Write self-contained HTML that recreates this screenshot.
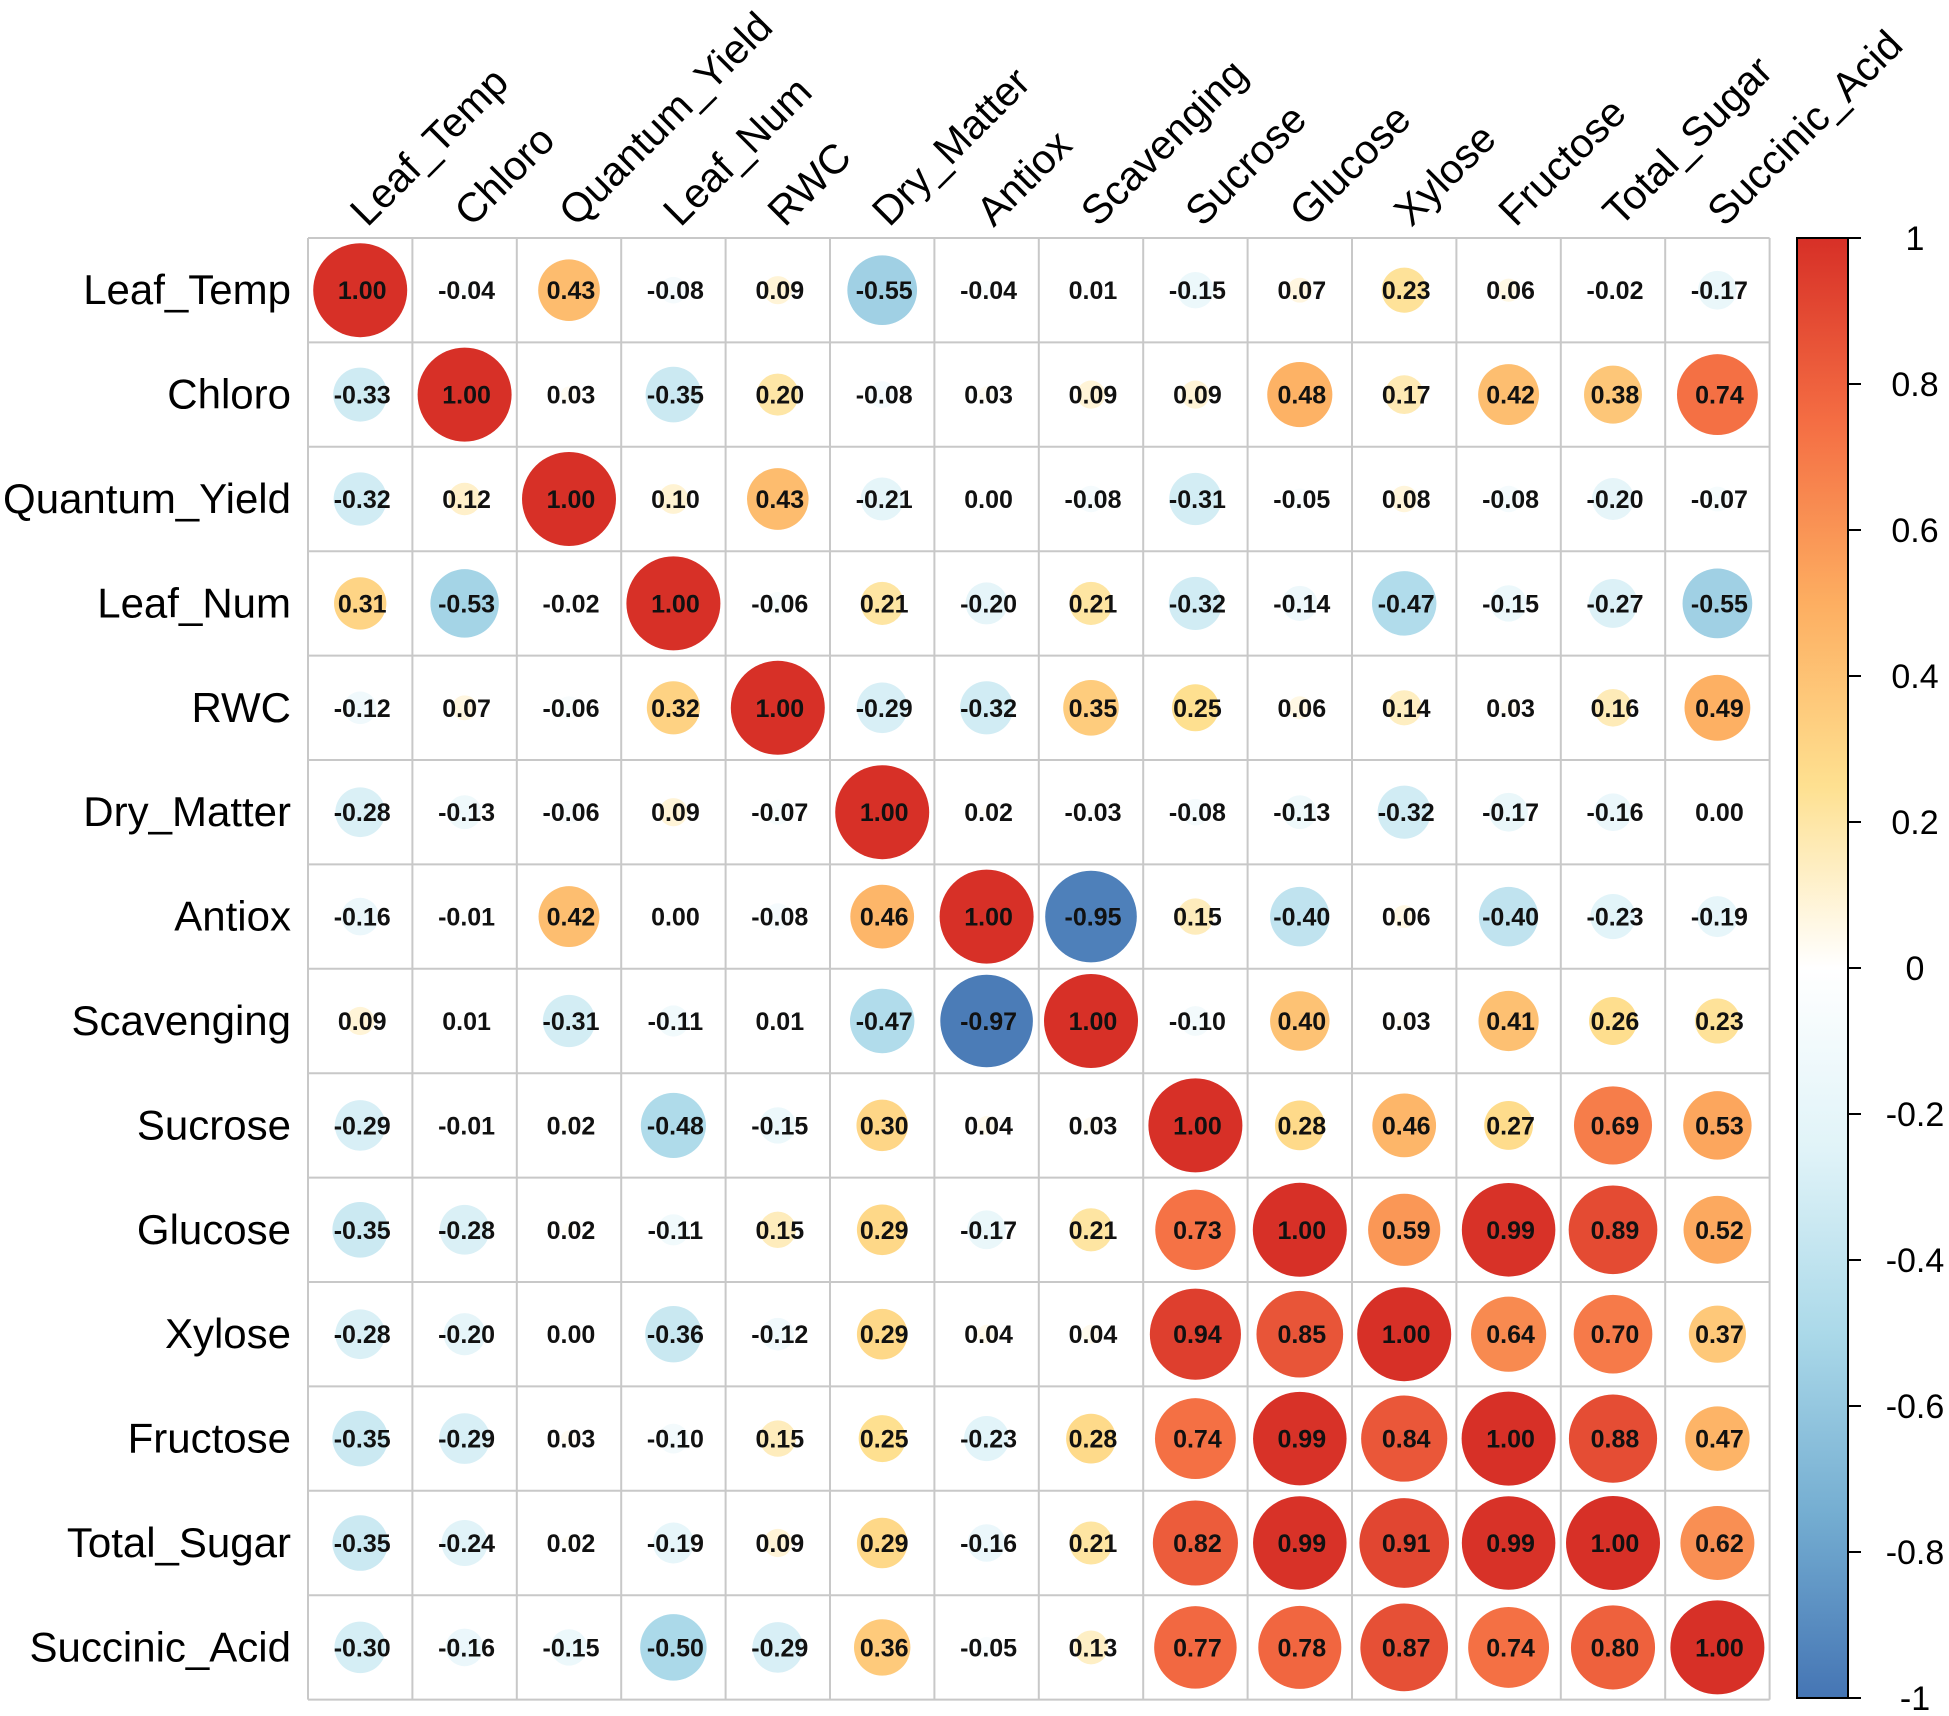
<!DOCTYPE html>
<html><head><meta charset="utf-8"><style>
html,body{margin:0;padding:0;background:#fff}
svg{display:block}
text{font-family:"Liberation Sans",Arial,sans-serif}
.v{font-size:25px;font-weight:bold;fill:#111;text-anchor:middle}
.rl{font-size:42px;text-anchor:end;fill:#000}
.cl{font-size:41px;fill:#000}
.cb{font-size:34px;text-anchor:middle;fill:#000}
</style></head><body>
<svg id="s" width="1949" height="1716" viewBox="0 0 1949 1716" xmlns="http://www.w3.org/2000/svg">
<defs><linearGradient id="g" x1="0" y1="0" x2="0" y2="1">
<stop offset="0" stop-color="#D73027"/><stop offset="0.125" stop-color="#F46D43"/><stop offset="0.25" stop-color="#FDAE61"/><stop offset="0.375" stop-color="#FEE090"/><stop offset="0.5" stop-color="#FFFFFF"/><stop offset="0.625" stop-color="#E0F3F8"/><stop offset="0.75" stop-color="#ABD9E9"/><stop offset="0.875" stop-color="#74ADD1"/><stop offset="1" stop-color="#4575B4"/></linearGradient></defs>
<g id="grid"></g>
<g id="circ"></g>
<g id="rl">
<text class="rl">Leaf_Temp</text><text class="rl">Chloro</text><text class="rl">Quantum_Yield</text><text class="rl">Leaf_Num</text><text class="rl">RWC</text><text class="rl">Dry_Matter</text><text class="rl">Antiox</text><text class="rl">Scavenging</text><text class="rl">Sucrose</text><text class="rl">Glucose</text><text class="rl">Xylose</text><text class="rl">Fructose</text><text class="rl">Total_Sugar</text><text class="rl">Succinic_Acid</text>
</g>
<g id="cl">
<text class="cl">Leaf_Temp</text><text class="cl">Chloro</text><text class="cl">Quantum_Yield</text><text class="cl">Leaf_Num</text><text class="cl">RWC</text><text class="cl">Dry_Matter</text><text class="cl">Antiox</text><text class="cl">Scavenging</text><text class="cl">Sucrose</text><text class="cl">Glucose</text><text class="cl">Xylose</text><text class="cl">Fructose</text><text class="cl">Total_Sugar</text><text class="cl">Succinic_Acid</text>
</g>
<g id="vals">
<g><text class="v">1.00</text><text class="v">-0.04</text><text class="v">0.43</text><text class="v">-0.08</text><text class="v">0.09</text><text class="v">-0.55</text><text class="v">-0.04</text><text class="v">0.01</text><text class="v">-0.15</text><text class="v">0.07</text><text class="v">0.23</text><text class="v">0.06</text><text class="v">-0.02</text><text class="v">-0.17</text></g>
<g><text class="v">-0.33</text><text class="v">1.00</text><text class="v">0.03</text><text class="v">-0.35</text><text class="v">0.20</text><text class="v">-0.08</text><text class="v">0.03</text><text class="v">0.09</text><text class="v">0.09</text><text class="v">0.48</text><text class="v">0.17</text><text class="v">0.42</text><text class="v">0.38</text><text class="v">0.74</text></g>
<g><text class="v">-0.32</text><text class="v">0.12</text><text class="v">1.00</text><text class="v">0.10</text><text class="v">0.43</text><text class="v">-0.21</text><text class="v">0.00</text><text class="v">-0.08</text><text class="v">-0.31</text><text class="v">-0.05</text><text class="v">0.08</text><text class="v">-0.08</text><text class="v">-0.20</text><text class="v">-0.07</text></g>
<g><text class="v">0.31</text><text class="v">-0.53</text><text class="v">-0.02</text><text class="v">1.00</text><text class="v">-0.06</text><text class="v">0.21</text><text class="v">-0.20</text><text class="v">0.21</text><text class="v">-0.32</text><text class="v">-0.14</text><text class="v">-0.47</text><text class="v">-0.15</text><text class="v">-0.27</text><text class="v">-0.55</text></g>
<g><text class="v">-0.12</text><text class="v">0.07</text><text class="v">-0.06</text><text class="v">0.32</text><text class="v">1.00</text><text class="v">-0.29</text><text class="v">-0.32</text><text class="v">0.35</text><text class="v">0.25</text><text class="v">0.06</text><text class="v">0.14</text><text class="v">0.03</text><text class="v">0.16</text><text class="v">0.49</text></g>
<g><text class="v">-0.28</text><text class="v">-0.13</text><text class="v">-0.06</text><text class="v">0.09</text><text class="v">-0.07</text><text class="v">1.00</text><text class="v">0.02</text><text class="v">-0.03</text><text class="v">-0.08</text><text class="v">-0.13</text><text class="v">-0.32</text><text class="v">-0.17</text><text class="v">-0.16</text><text class="v">0.00</text></g>
<g><text class="v">-0.16</text><text class="v">-0.01</text><text class="v">0.42</text><text class="v">0.00</text><text class="v">-0.08</text><text class="v">0.46</text><text class="v">1.00</text><text class="v">-0.95</text><text class="v">0.15</text><text class="v">-0.40</text><text class="v">0.06</text><text class="v">-0.40</text><text class="v">-0.23</text><text class="v">-0.19</text></g>
<g><text class="v">0.09</text><text class="v">0.01</text><text class="v">-0.31</text><text class="v">-0.11</text><text class="v">0.01</text><text class="v">-0.47</text><text class="v">-0.97</text><text class="v">1.00</text><text class="v">-0.10</text><text class="v">0.40</text><text class="v">0.03</text><text class="v">0.41</text><text class="v">0.26</text><text class="v">0.23</text></g>
<g><text class="v">-0.29</text><text class="v">-0.01</text><text class="v">0.02</text><text class="v">-0.48</text><text class="v">-0.15</text><text class="v">0.30</text><text class="v">0.04</text><text class="v">0.03</text><text class="v">1.00</text><text class="v">0.28</text><text class="v">0.46</text><text class="v">0.27</text><text class="v">0.69</text><text class="v">0.53</text></g>
<g><text class="v">-0.35</text><text class="v">-0.28</text><text class="v">0.02</text><text class="v">-0.11</text><text class="v">0.15</text><text class="v">0.29</text><text class="v">-0.17</text><text class="v">0.21</text><text class="v">0.73</text><text class="v">1.00</text><text class="v">0.59</text><text class="v">0.99</text><text class="v">0.89</text><text class="v">0.52</text></g>
<g><text class="v">-0.28</text><text class="v">-0.20</text><text class="v">0.00</text><text class="v">-0.36</text><text class="v">-0.12</text><text class="v">0.29</text><text class="v">0.04</text><text class="v">0.04</text><text class="v">0.94</text><text class="v">0.85</text><text class="v">1.00</text><text class="v">0.64</text><text class="v">0.70</text><text class="v">0.37</text></g>
<g><text class="v">-0.35</text><text class="v">-0.29</text><text class="v">0.03</text><text class="v">-0.10</text><text class="v">0.15</text><text class="v">0.25</text><text class="v">-0.23</text><text class="v">0.28</text><text class="v">0.74</text><text class="v">0.99</text><text class="v">0.84</text><text class="v">1.00</text><text class="v">0.88</text><text class="v">0.47</text></g>
<g><text class="v">-0.35</text><text class="v">-0.24</text><text class="v">0.02</text><text class="v">-0.19</text><text class="v">0.09</text><text class="v">0.29</text><text class="v">-0.16</text><text class="v">0.21</text><text class="v">0.82</text><text class="v">0.99</text><text class="v">0.91</text><text class="v">0.99</text><text class="v">1.00</text><text class="v">0.62</text></g>
<g><text class="v">-0.30</text><text class="v">-0.16</text><text class="v">-0.15</text><text class="v">-0.50</text><text class="v">-0.29</text><text class="v">0.36</text><text class="v">-0.05</text><text class="v">0.13</text><text class="v">0.77</text><text class="v">0.78</text><text class="v">0.87</text><text class="v">0.74</text><text class="v">0.80</text><text class="v">1.00</text></g>
</g>
<rect x="1797" y="238" width="51" height="1460" fill="url(#g)" stroke="#000" stroke-width="2"/>
<g id="cbt">
<text class="cb">1</text><text class="cb">0.8</text><text class="cb">0.6</text><text class="cb">0.4</text><text class="cb">0.2</text><text class="cb">0</text><text class="cb">-0.2</text><text class="cb">-0.4</text><text class="cb">-0.6</text><text class="cb">-0.8</text><text class="cb">-1</text>
</g>
</svg>
<script>
var NS="http://www.w3.org/2000/svg";
var L=308,T=238,C=104.4,N=14;
function el(p,n,a){var e=document.createElementNS(NS,n);for(var k in a)e.setAttribute(k,a[k]);p.appendChild(e);return e;}
var grid=document.getElementById('grid');
for(var i=0;i<=N;i++){
el(grid,'line',{x1:L+i*C,y1:T,x2:L+i*C,y2:T+N*C,stroke:'#c8c8c8','stroke-width':2});
el(grid,'line',{x1:L,y1:T+i*C,x2:L+N*C,y2:T+i*C,stroke:'#c8c8c8','stroke-width':2});
}
var stops=[[-1,[69,117,180]],[-0.75,[116,173,209]],[-0.5,[171,217,233]],[-0.25,[224,243,248]],[0,[255,255,255]],[0.25,[254,224,144]],[0.5,[253,174,97]],[0.75,[244,109,67]],[1,[215,48,39]]];
function col(v){for(var i=0;i<stops.length-1;i++){var a=stops[i],b=stops[i+1];if(v<=b[0]){var t=(v-a[0])/(b[0]-a[0]);return 'rgb('+a[1].map(function(c,k){return Math.round(c+(b[1][k]-c)*t)}).join(',')+')';}}return 'rgb(215,48,39)';}
var circ=document.getElementById('circ');
var rows=document.getElementById('vals').children;
for(var j=0;j<N;j++){var ts=rows[j].children;for(var i=0;i<N;i++){
var cx=L+C*(i+0.5),cy=T+C*(j+0.5),v=parseFloat(ts[i].textContent);
ts[i].setAttribute('x',cx+2);ts[i].setAttribute('y',cy+9);
var r=47*Math.sqrt(Math.abs(v));if(r>0.5)el(circ,'circle',{cx:cx,cy:cy,r:r,fill:col(v)});}}
var rl=document.getElementById('rl').children;
for(var j=0;j<N;j++){rl[j].setAttribute('x',291);rl[j].setAttribute('y',T+C*(j+0.5)+14);}
var cl=document.getElementById('cl').children;
for(var i=0;i<N;i++){var x=L+C*(i+0.5)+7,y=228;cl[i].setAttribute('x',x);cl[i].setAttribute('y',y);cl[i].setAttribute('transform','rotate(-45 '+x+' '+y+')');}
var cb=document.getElementById('cbt').children,s=document.getElementById('s');
for(var k=0;k<11;k++){var y=T+k*146;cb[k].setAttribute('x',1915);cb[k].setAttribute('y',y+12);
el(s,'line',{x1:1848,y1:y,x2:1861,y2:y,stroke:'#000','stroke-width':2});}
</script>
</body></html>
